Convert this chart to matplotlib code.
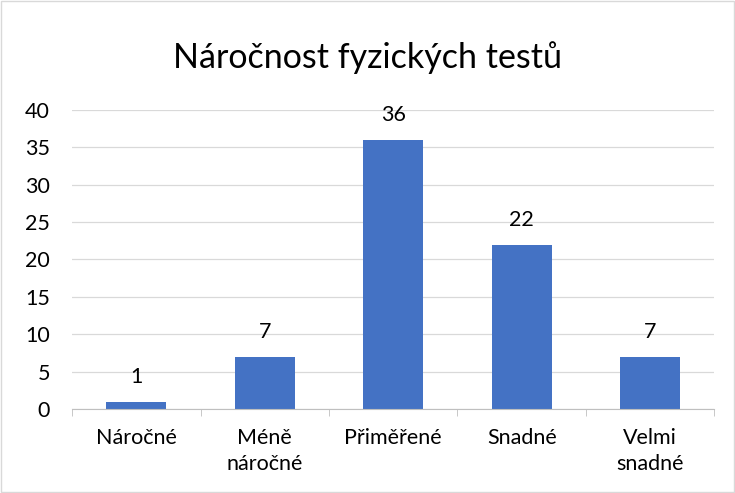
import matplotlib
matplotlib.use("Agg")
import matplotlib.pyplot as plt
import numpy as np

categories = ["Náročné", "Méně\nnáročné", "Přiměřené", "Snadné", "Velmi\nsnadné"]
values = [1, 7, 36, 22, 7]

plt.rcParams["font.family"] = ["Lato", "DejaVu Sans"]

fig = plt.figure(figsize=(7.35, 4.93), dpi=100)
ax = fig.add_axes([0.098, 0.1704, 0.874, 0.6065])
x = np.arange(len(values))
ax.bar(x, values, width=0.47, color="#4472C4", zorder=3)
for xi, v in zip(x, values):
    ax.annotate(str(v), (xi, v), xytext=(0, 18), textcoords="offset points",
                ha="center", va="center", fontsize=15.5, color="#000000")

ax.set_xlim(-0.5, len(values) - 0.5)
ax.set_ylim(0, 40)
ax.set_yticks(range(0, 41, 5))
ax.set_xticks(x, categories, linespacing=1.35)
ax.set_xticks(np.arange(-0.5, len(values)), minor=True)
ax.grid(axis="y", color="#d9d9d9", lw=0.9, zorder=0)
for s in ("top", "right", "left"):
    ax.spines[s].set_visible(False)
ax.spines["bottom"].set_color("#bfbfbf")
ax.spines["bottom"].set_zorder(4)
ax.tick_params(axis="both", which="major", length=0, labelsize=15.5, colors="#000000")
ax.tick_params(axis="x", which="minor", length=5, color="#bfbfbf", direction="out")
ax.tick_params(axis="y", pad=16)
ax.tick_params(axis="x", which="major", pad=14)

fig.text(0.5, 0.884, "Náročnost fyzických testů", ha="center", va="center", fontsize=24.5)
fig.patches.append(plt.Rectangle((0.002, 0.002), 0.996, 0.996, transform=fig.transFigure,
                                 fill=False, ec="#d9d9d9", lw=1))
fig.savefig("out.png", dpi=100)
